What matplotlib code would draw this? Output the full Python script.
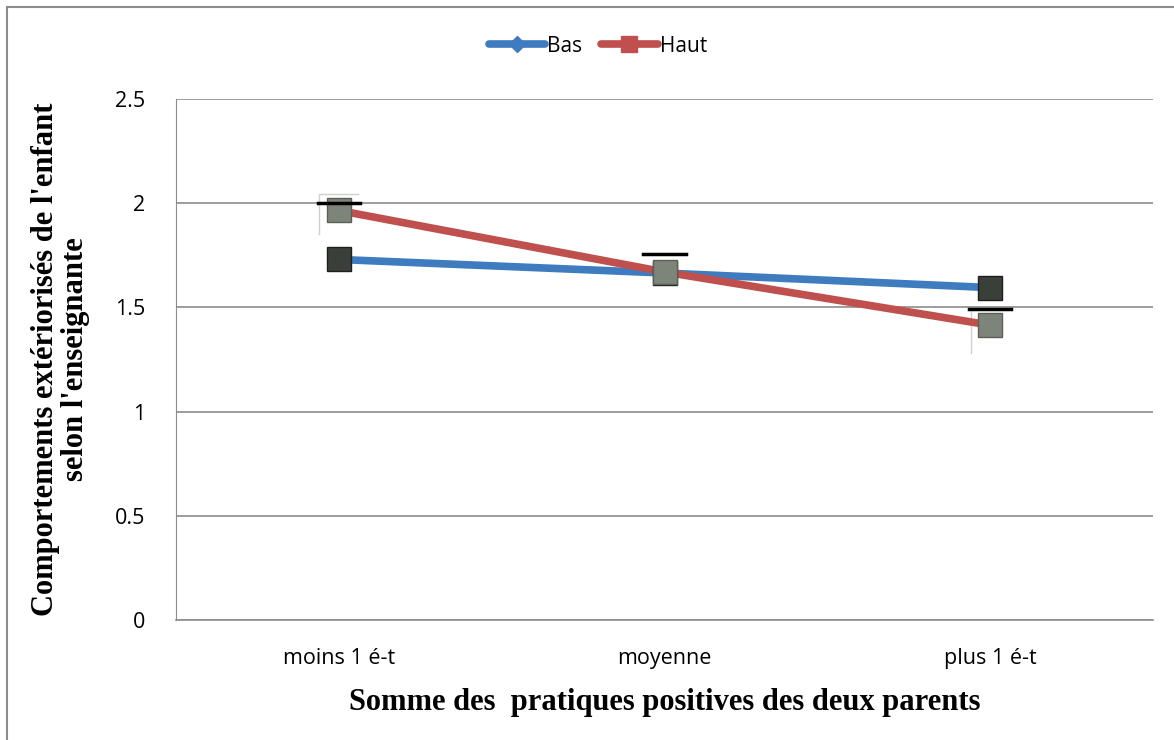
import matplotlib.pyplot as plt
from matplotlib.lines import Line2D
from matplotlib.patches import Rectangle

categories = ["moins 1 é-t", "moyenne", "plus 1 é-t"]
bas = [1.73, 1.665, 1.595]
haut = [1.965, 1.67, 1.415]
caps = [2.0, 1.755, 1.49]
yticks = [0, 0.5, 1, 1.5, 2, 2.5]
ytick_labels = ["0", "0.5", "1", "1.5", "2", "2.5"]

BLUE = "#3f7cbf"
RED = "#c0504d"

fig = plt.figure(figsize=(11.74, 7.40), dpi=100)
ax = fig.add_axes([176 / 1174, 1 - 620 / 740, (1153 - 176) / 1174, (620 - 99) / 740])

x = [1, 2, 3]
ax.plot(x, bas, color=BLUE, linewidth=5.5, solid_capstyle="round", zorder=3)
ax.plot(x, haut, color=RED, linewidth=5.5, solid_capstyle="round", zorder=3)

# marqueurs (carres)
ax.plot(x, bas, linestyle="none", marker="s", markersize=17,
        markerfacecolor="#3b3f3a", markeredgecolor="#1e1e1e", zorder=4)
ax.plot(x, haut, linestyle="none", marker="s", markersize=17,
        markerfacecolor="#7d857b", markeredgecolor="#5a5f58", zorder=5)

# traits noirs (barres d'erreur)
for xi, c in zip(x, caps):
    ax.plot([xi - 0.065, xi + 0.065], [c, c], color="black", linewidth=2.5, zorder=6)
ax.plot([0.94, 0.94, 1.06], [1.85, 2.045, 2.045], color="#cfcfcf", linewidth=1, zorder=2)
ax.plot([2.94, 2.94], [1.28, 1.49], color="#cfcfcf", linewidth=1, zorder=2)

ax.set_xlim(0.5, 3.5)
ax.set_ylim(0, 2.5)
ax.set_yticks(yticks)
ax.set_yticklabels(ytick_labels, fontsize=15.5, family="Open Sans")
ax.set_xticks(x)
ax.set_xticklabels(categories, fontsize=15.5, family="Open Sans")
ax.tick_params(axis="x", length=0, pad=20)
ax.tick_params(axis="y", length=0, pad=22)
ax.yaxis.grid(True, color="#8c8c8c", linewidth=1.2)
ax.set_axisbelow(True)
for s in ["top", "right"]:
    ax.spines[s].set_visible(False)
ax.spines["left"].set_color("#8c8c8c")
ax.spines["bottom"].set_color("#8c8c8c")
ax.spines["bottom"].set_linewidth(1.2)

ax.set_xlabel("Somme des  pratiques positives des deux parents", fontsize=22,
              fontweight="bold", family="Liberation Serif", labelpad=14)
ax.set_ylabel("Comportements extériorisés de l'enfant\nselon l'enseignante", fontsize=22,
              fontweight="bold", family="Liberation Serif", labelpad=18, linespacing=1.05)

handles = [
    Line2D([], [], color=BLUE, linewidth=5.5, marker="D", markersize=8, solid_capstyle="round"),
    Line2D([], [], color=RED, linewidth=5.5, marker="s", markersize=11, solid_capstyle="round"),
]
fig.legend(handles, ["Bas", "Haut"], loc="center", bbox_to_anchor=(598 / 1174, 1 - 46 / 740),
           ncol=2, frameon=False, prop={"family": "Open Sans", "size": 15},
           handlelength=2.7, handletextpad=0.1, columnspacing=0.9)

fig.patches.append(Rectangle((7 / 1174, -0.1), 1.2, 1 - 7 / 740 + 0.1, transform=fig.transFigure,
                             fill=False, edgecolor="#8c8c8c", linewidth=1.5))

fig.savefig("out.png", dpi=100)
